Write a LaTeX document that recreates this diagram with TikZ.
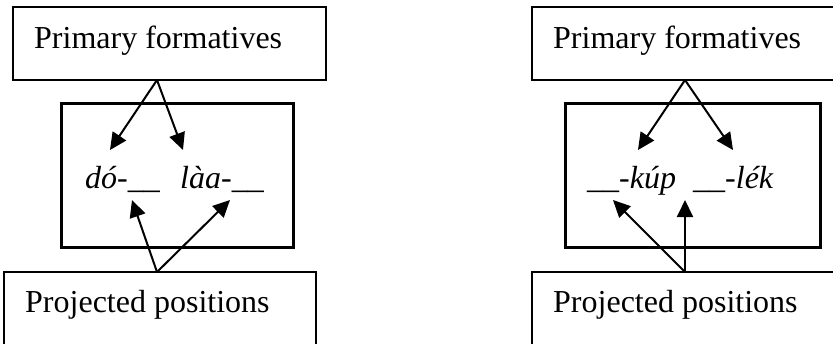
\documentclass[tikz,border=0pt]{standalone}
\usepackage{fontspec}
\setmainfont{Liberation Serif}
\usetikzlibrary{arrows.meta}
\begin{document}
\begin{tikzpicture}[x=1pt,y=-1pt,
  thinbox/.style={draw, line width=1.1pt, inner sep=0, outer sep=0, anchor=north west},
  thickbox/.style={draw, line width=3pt, inner sep=0, outer sep=0, anchor=north west},
  lbl/.style={inner sep=0, anchor=base west, font=\fontsize{32}{38}\selectfont},
  form/.style={inner sep=0, anchor=base west, font=\fontsize{32}{38}\selectfont\itshape},
  arr/.style={line width=2pt, -{Triangle[length=17pt,width=16pt]}}]
\useasboundingbox (0,0) rectangle (833,343);
\clip (0,0) rectangle (833,343);
\fill[white] (0,0) rectangle (833,343);
% left panel
\node[thinbox, minimum width=313pt, minimum height=73pt] (pfL) at (13,7) {};
\node[lbl] (pfLt) at (34,48) {Primary formatives};
\node[thickbox, minimum width=232pt, minimum height=144pt] (mL) at (61,103) {};
\node[form] (w1) at (85,188) {dó-\_\_};
\node[form] (w2) at (180,188) {làa-\_\_};
\node[thinbox, minimum width=312pt, minimum height=90pt] (ppL) at (4,272) {};
\node[lbl] (ppLt) at (25,312) {Projected positions};
\coordinate (sL1) at (157,80);
\coordinate (eL1) at (110,150);
\coordinate (eL2) at (183,150);
\coordinate (sL2) at (157,272);
\coordinate (eL3) at (132,200);
\coordinate (eL4) at (230,200);
\draw[arr] (sL1) -- (eL1);
\draw[arr] (sL1) -- (eL2);
\draw[arr] (sL2) -- (eL3);
\draw[arr] (sL2) -- (eL4);
% right panel
\node[thinbox, minimum width=320pt, minimum height=73pt] (pfR) at (532,7) {};
\node[lbl] (pfRt) at (553,48) {Primary formatives};
\node[thickbox, minimum width=255pt, minimum height=144pt] (mR) at (565,103) {};
\node[form] (w3) at (587,188) {\_\_-kúp};
\node[form] (w4) at (693,188) {\_\_-lék};
\node[thinbox, minimum width=320pt, minimum height=90pt] (ppR) at (532,272) {};
\node[lbl] (ppRt) at (553,312) {Projected positions};
\coordinate (sR1) at (685,80);
\coordinate (eR1) at (638,150);
\coordinate (eR2) at (733,150);
\coordinate (sR2) at (685,272);
\coordinate (eR3) at (613,200);
\coordinate (eR4) at (685,200);
\draw[arr] (sR1) -- (eR1);
\draw[arr] (sR1) -- (eR2);
\draw[arr] (sR2) -- (eR3);
\draw[arr] (sR2) -- (eR4);
\end{tikzpicture}
\end{document}
